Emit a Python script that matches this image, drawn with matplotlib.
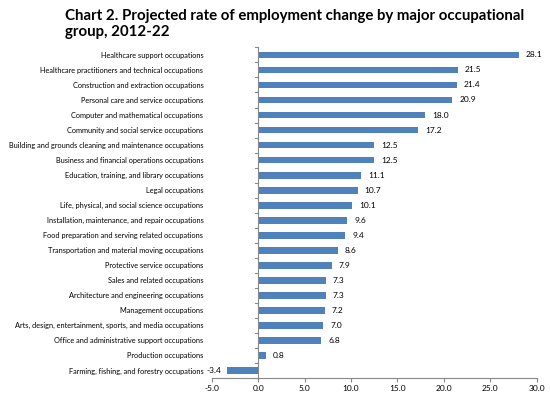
import matplotlib.pyplot as plt
import numpy as np

plt.rcParams['font.family'] = ['Lato', 'DejaVu Sans']

occupations = [
    'Healthcare support occupations',
    'Healthcare practitioners and technical occupations',
    'Construction and extraction occupations',
    'Personal care and service occupations',
    'Computer and mathematical occupations',
    'Community and social service occupations',
    'Building and grounds cleaning and maintenance occupations',
    'Business and financial operations occupations',
    'Education, training, and library occupations',
    'Legal occupations',
    'Life, physical, and social science occupations',
    'Installation, maintenance, and repair occupations',
    'Food preparation and serving related occupations',
    'Transportation and material moving occupations',
    'Protective service occupations',
    'Sales and related occupations',
    'Architecture and engineering occupations',
    'Management occupations',
    'Arts, design, entertainment, sports, and media occupations',
    'Office and administrative support occupations',
    'Production occupations',
    'Farming, fishing, and forestry occupations',
]
rates = [28.1, 21.5, 21.4, 20.9, 18.0, 17.2, 12.5, 12.5, 11.1, 10.7, 10.1,
         9.6, 9.4, 8.6, 7.9, 7.3, 7.3, 7.2, 7.0, 6.8, 0.8, -3.4]
xticks = [-5, 0, 5, 10, 15, 20, 25, 30]

fig = plt.figure(figsize=(5.5, 3.95), dpi=100)
ax = fig.add_axes([0.385, 0.043, 0.591, 0.837])

y = np.arange(len(occupations))
ax.barh(y, rates, height=0.45, color='#4F81BD', zorder=2)
ax.set_ylim(len(occupations) - 0.5, -0.5)
ax.set_xlim(-5, 30)

for yi, v in zip(y, rates):
    if v >= 0:
        ax.text(v + 0.75, yi, f'{v:.1f}', va='center', ha='left', fontsize=6)
    else:
        ax.text(v - 0.6, yi, f'{v:.1f}', va='center', ha='right', fontsize=6)

ax.set_xticks(xticks)
ax.set_xticklabels([f'{t:.1f}' for t in xticks], fontsize=6)
ax.set_yticks(y)
ax.set_yticklabels(occupations, fontsize=5.35)
ax.tick_params(axis='y', which='major', length=0, pad=6)
ax.tick_params(axis='x', length=3, color='#888888', pad=2)

for s in ['top', 'right', 'left']:
    ax.spines[s].set_visible(False)
ax.spines['bottom'].set_color('#888888')
ax.spines['bottom'].set_linewidth(0.8)
ax.axvline(0, color='#888888', linewidth=0.8, zorder=3)

# category boundary ticks on the zero line
for b in np.arange(len(occupations) + 1) - 0.5:
    ax.plot([-0.35, 0], [b, b], color='#888888', linewidth=0.8, zorder=3,
            clip_on=False)

fig.text(0.118, 0.977, 'Chart 2. Projected rate of employment change by major occupational\ngroup, 2012-22',
         fontsize=10.8, fontweight='bold', va='top', ha='left', linespacing=1.2)

fig.savefig('out.png', dpi=100)
